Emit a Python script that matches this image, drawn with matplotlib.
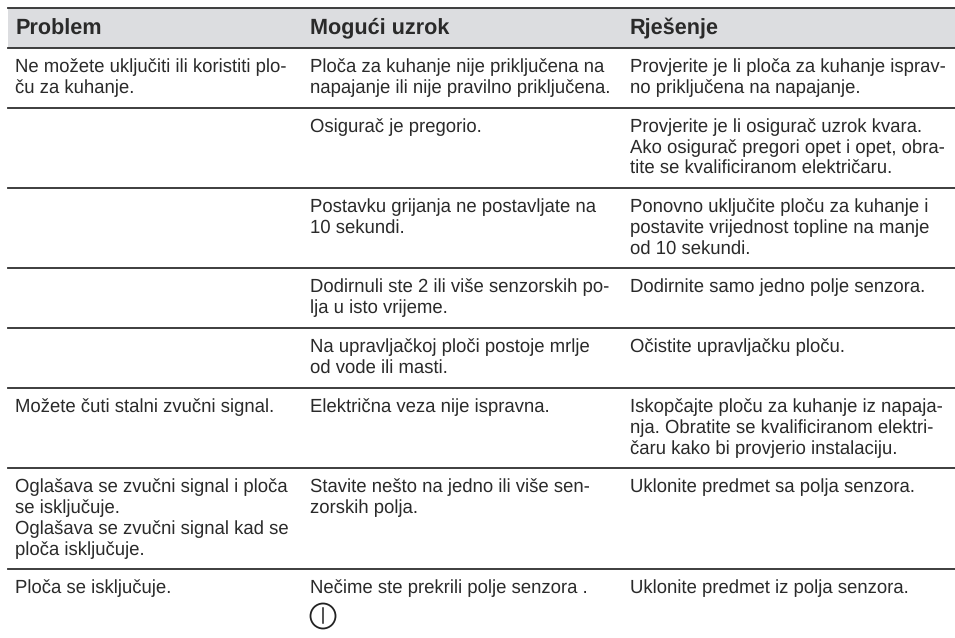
import matplotlib
matplotlib.use('Agg')
import matplotlib.pyplot as plt
from matplotlib.patches import Rectangle, Circle

headers = ["Problem", "Mogući uzrok", "Rješenje"]

problems = [
    "Ne možete uključiti ili koristiti plo-\nču za kuhanje.",
    "",
    "",
    "",
    "",
    "Možete čuti stalni zvučni signal.",
    "Oglašava se zvučni signal i ploča\nse isključuje.\nOglašava se zvučni signal kad se\nploča isključuje.",
    "Ploča se isključuje.",
]
causes = [
    "Ploča za kuhanje nije priključena na\nnapajanje ili nije pravilno priključena.",
    "Osigurač je pregorio.",
    "Postavku grijanja ne postavljate na\n10 sekundi.",
    "Dodirnuli ste 2 ili više senzorskih po-\nlja u isto vrijeme.",
    "Na upravljačkoj ploči postoje mrlje\nod vode ili masti.",
    "Električna veza nije ispravna.",
    "Stavite nešto na jedno ili više sen-\nzorskih polja.",
    "Nečime ste prekrili polje senzora .",
]
solutions = [
    "Provjerite je li ploča za kuhanje isprav-\nno priključena na napajanje.",
    "Provjerite je li osigurač uzrok kvara.\nAko osigurač pregori opet i opet, obra-\ntite se kvalificiranom električaru.",
    "Ponovno uključite ploču za kuhanje i\npostavite vrijednost topline na manje\nod 10 sekundi.",
    "Dodirnite samo jedno polje senzora.",
    "Očistite upravljačku ploču.",
    "Iskopčajte ploču za kuhanje iz napaja-\nnja. Obratite se kvalificiranom elektri-\nčaru kako bi provjerio instalaciju.",
    "Uklonite predmet sa polja senzora.",
    "Uklonite predmet iz polja senzora.",
]

col_x = [15.4, 309.6, 629.8]
head_y = [35, 33, 33]  # Problem has no descender, it lands higher otherwise
line_h = 21
text_color = '#2a2a2a'
line_color = '#2e2e2e'
left, right = 8, 955

plt.rcParams['font.family'] = ['Liberation Sans', 'DejaVu Sans']
plt.rcParams['text.hinting'] = 'no_hinting'
fig = plt.figure(figsize=(9.55, 6.38), dpi=100)
ax = fig.add_axes([0, 0, 1, 1])
ax.set_xlim(0, 955)
ax.set_ylim(638, 0)
ax.axis('off')

# header band
top = 7.5
head_bottom = 48
ax.add_patch(Rectangle((left, top), right - left, head_bottom - top, facecolor='#dcdde0', edgecolor='none'))
ax.plot([left, right], [top, top], color=line_color, lw=1.3)
ax.plot([left, right], [head_bottom, head_bottom], color=line_color, lw=1.3)
for x, hy, h in zip(col_x, head_y, headers):
    ax.text(x, hy, h, fontsize=15.6, fontweight='bold', color=text_color, va='baseline', ha='left')

y = head_bottom
for p, c, s in zip(problems, causes, solutions):
    n = max(t.count("\n") + 1 for t in (p, c, s))
    for x, t in zip(col_x, (p, c, s)):
        for i, part in enumerate(t.split("\n")):
            ax.text(x, y + 24 + i * line_h, part, fontsize=13.35, color=text_color, va='baseline', ha='left')
    y += 20.4 * n + 19
    if c != causes[-1]:
        ax.plot([left, right], [y, y], color=line_color, lw=1.3)

# power symbol under the last cause
ax.add_patch(Circle((323, 616), 12.5, facecolor='none', edgecolor='#222222', lw=1.3))
ax.plot([323, 323], [608, 623], color='#222222', lw=1.1)

fig.savefig('out.png', dpi=100)
